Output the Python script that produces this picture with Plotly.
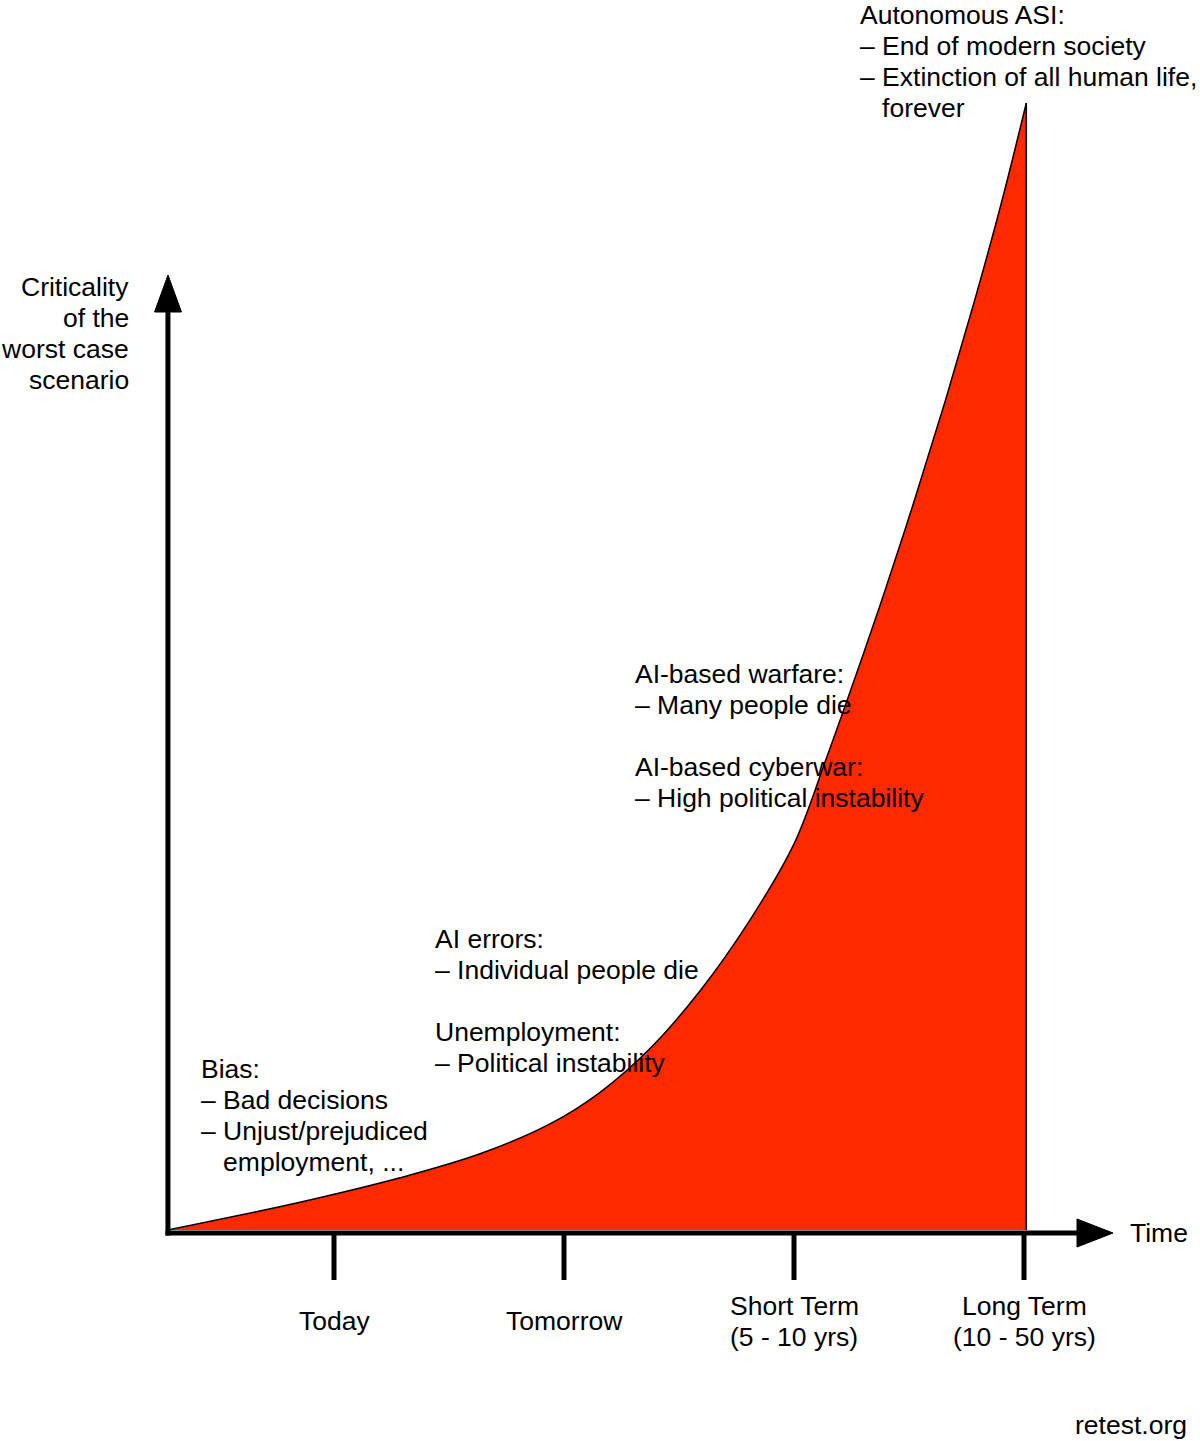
import plotly.graph_objects as go

# ---------------- data ----------------
# time axis: Today=1, Tomorrow=2, Short Term=3, Long Term=4 (origin of chart at ~0.28)
time_pts = [0.278, 0.852, 1.287, 1.635, 1.939, 2.157, 2.374, 2.591, 2.809, 3.000,
            3.138, 3.262, 3.382, 3.524, 3.659, 3.786, 3.905, 4.010]
criticality = [0.0, 2.46, 4.63, 6.76, 9.41, 12.22, 16.10, 21.21, 27.52, 34.26,
               41.70, 48.80, 55.90, 64.77, 73.65, 82.52, 91.39, 100.0]

tick_positions = [1, 2, 3, 4]
tick_labels = [["Today"], ["Tomorrow"], ["Short Term", "(5 - 10 yrs)"], ["Long Term", "(10 - 50 yrs)"]]

y_title_lines = ["Criticality", "of the", "worst case", "scenario"]
x_title = "Time"

NB = "\u00a0\u00a0\u00a0"
bias_lines = ["Bias:", "– Bad decisions", "– Unjust/prejudiced", NB + "employment, ..."]
errors_lines = ["AI errors:", "– Individual people die"]
unemployment_lines = ["Unemployment:", "– Political instability"]
warfare_lines = ["AI-based warfare:", "– Many people die"]
cyberwar_lines = ["AI-based cyberwar:", "– High political instability"]
asi_lines = ["Autonomous ASI:", "– End of modern society", "– Extinction of all human life,", NB + "forever"]
credit = "retest.org"

# ---------------- layout helpers (pixel -> axis units) ----------------
W, H = 1200, 1441
PX_X1, PX_PER_X = 334, 230.0      # x = 1 at pixel 334
PX_Y0, PX_PER_Y = 1230, 11.27     # y = 0 at pixel 1230


def X(px):
    return 1 + (px - PX_X1) / PX_PER_X


def Y(py):
    return (PX_Y0 - py) / PX_PER_Y


RED = "#FF2900"
FONT = dict(family="Liberation Sans, Arial, Helvetica, sans-serif", size=26.5, color="#000000")
LINE_GAP = 31

fig = go.Figure()

# filled curve
fig.add_trace(go.Scatter(
    x=time_pts, y=criticality, mode="lines",
    line=dict(color="black", width=1.5, shape="spline", smoothing=1.0),
    fill="tozeroy", fillcolor=RED, hoverinfo="skip", showlegend=False))
# right vertical edge of the area
fig.add_trace(go.Scatter(
    x=[time_pts[-1], time_pts[-1]], y=[0, criticality[-1]], mode="lines",
    line=dict(color="black", width=1.5), hoverinfo="skip", showlegend=False))

shapes = []
origin_x = time_pts[0]
AX_Y = Y(1233)
# x axis line
shapes.append(dict(type="line", xref="x", yref="y", x0=X(165.5), y0=AX_Y, x1=X(1080), y1=AX_Y,
                   line=dict(color="black", width=5), layer="above"))
# y axis line
shapes.append(dict(type="line", xref="x", yref="y", x0=origin_x, y0=Y(1235.5), x1=origin_x, y1=Y(308),
                   line=dict(color="black", width=5), layer="above"))
# arrowheads
shapes.append(dict(type="path", xref="x", yref="y",
                   path=f"M {X(1077)},{Y(1219)} L {X(1113)},{Y(1233)} L {X(1077)},{Y(1247)} Z",
                   fillcolor="black", line=dict(color="black", width=1), layer="above"))
shapes.append(dict(type="path", xref="x", yref="y",
                   path=f"M {X(154.5)},{Y(312)} L {X(168)},{Y(275)} L {X(181.5)},{Y(312)} Z",
                   fillcolor="black", line=dict(color="black", width=1), layer="above"))
# tick marks
for t in tick_positions:
    shapes.append(dict(type="line", xref="x", yref="y", x0=t, y0=Y(1232), x1=t, y1=Y(1280),
                       line=dict(color="black", width=5), layer="above"))

annotations = []


def add_lines(lines, px, py_first, anchor="left"):
    for i, s in enumerate(lines):
        annotations.append(dict(x=X(px), y=Y(py_first + i * LINE_GAP), xref="x", yref="y",
                                text=s, showarrow=False, xanchor=anchor, yanchor="middle",
                                align=anchor, font=FONT))


add_lines(y_title_lines, 131, 287, "right")
add_lines([x_title], 1128, 1233, "left")
for t, lab in zip(tick_positions, tick_labels):
    first = 1321 - (len(lab) - 1) * LINE_GAP / 2
    for i, s in enumerate(lab):
        annotations.append(dict(x=t, y=Y(first + i * LINE_GAP), xref="x", yref="y",
                                text=s, showarrow=False, xanchor="center", yanchor="middle",
                                font=FONT))
add_lines(bias_lines, 199, 1069)
add_lines(errors_lines, 433, 939)
add_lines(unemployment_lines, 433, 1032)
add_lines(warfare_lines, 633, 674)
add_lines(cyberwar_lines, 633, 767)
add_lines(asi_lines, 858, 15)
add_lines([credit], 1189, 1425, "right")

fig.update_layout(
    width=W, height=H, margin=dict(l=0, r=0, t=0, b=0),
    paper_bgcolor="white", plot_bgcolor="white",
    xaxis=dict(range=[X(0), X(W)], visible=False, fixedrange=True),
    yaxis=dict(range=[Y(H), Y(0)], visible=False, fixedrange=True),
    shapes=shapes, annotations=annotations, showlegend=False)

fig.write_html("out.html")
